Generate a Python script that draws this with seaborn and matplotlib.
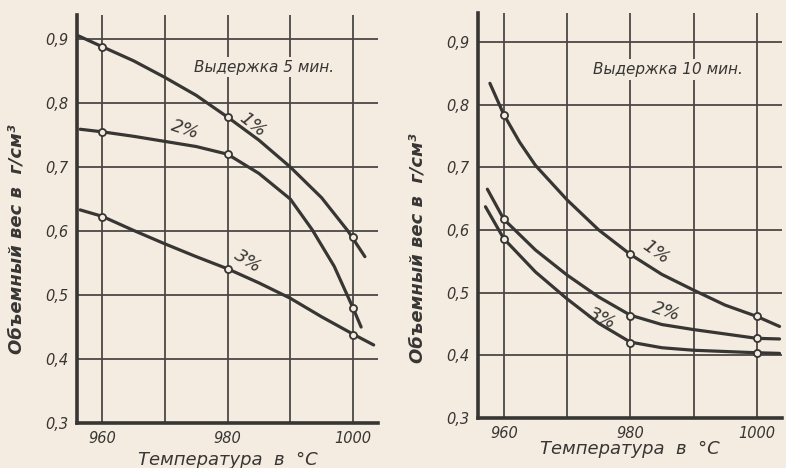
import numpy as np
import pandas as pd
import matplotlib
matplotlib.use("Agg")
import matplotlib.pyplot as plt
import seaborn as sns

sns.set_style("white")
plt.rcParams['font.family'] = ['DejaVu Sans']
plt.rcParams['font.style'] = 'italic'

paper = '#f4ece0'
ink = '#383634'

# curves, 5 min exposure
t5_1 = [956.2, 960, 965, 970, 975, 980, 985, 990, 995, 999.2, 1001.9]
v5_1 = [0.905, 0.888, 0.866, 0.840, 0.812, 0.778, 0.742, 0.700, 0.652, 0.600, 0.560]
t5_2 = [956.5, 960, 965, 970, 975, 980, 985, 990, 993.5, 997, 1000, 1001.3]
v5_2 = [0.759, 0.755, 0.748, 0.740, 0.732, 0.720, 0.690, 0.650, 0.602, 0.545, 0.480, 0.450]
t5_3 = [956.5, 960, 965, 970, 975, 980, 985, 990, 995, 1000, 1003.3]
v5_3 = [0.633, 0.623, 0.601, 0.580, 0.560, 0.541, 0.519, 0.495, 0.466, 0.439, 0.422]

# curves, 10 min exposure
t10_1 = [957.8, 960, 962.5, 965, 970, 975, 980, 985, 990, 995, 1000, 1003.6]
v10_1 = [0.834, 0.784, 0.740, 0.703, 0.648, 0.600, 0.561, 0.529, 0.504, 0.480, 0.462, 0.446]
t10_2 = [957.4, 960, 965, 970, 975, 980, 985, 990, 995, 1000, 1003.6]
v10_2 = [0.665, 0.617, 0.568, 0.528, 0.493, 0.464, 0.449, 0.441, 0.434, 0.427, 0.426]
t10_3 = [957.1, 960, 965, 970, 975, 980, 985, 990, 995, 1000, 1003.6]
v10_3 = [0.637, 0.586, 0.533, 0.490, 0.451, 0.421, 0.412, 0.408, 0.406, 0.404, 0.403]

# measured points (open circles)
point_temps = [960, 980, 1000]
m5_1 = [0.888, 0.778, 0.590]
m5_2 = [0.755, 0.720, 0.480]
m5_3 = [0.622, 0.541, 0.437]
m10_1 = [0.784, 0.561, 0.462]
m10_2 = [0.617, 0.463, 0.427]
m10_3 = [0.586, 0.419, 0.404]

series_names = ['1%', '2%', '3%']
xticks = [960, 970, 980, 990, 1000]
xticklabels = ['960', '', '980', '', '1000']
yticks = [0.3, 0.4, 0.5, 0.6, 0.7, 0.8, 0.9]
yticklabels = ['0,3', '0,4', '0,5', '0,6', '0,7', '0,8', '0,9']


def curves_df(ts, vs):
    rows = []
    for name, t, v in zip(series_names, ts, vs):
        rows.append(pd.DataFrame({'temp': t, 'value': v, 'series': name}))
    return pd.concat(rows, ignore_index=True)


def points_df(vs):
    rows = []
    for name, v in zip(series_names, vs):
        rows.append(pd.DataFrame({'temp': point_temps, 'value': v, 'series': name}))
    return pd.concat(rows, ignore_index=True)


fig = plt.figure(figsize=(7.86, 4.68), dpi=100, facecolor=paper)
ax1 = fig.add_axes([0.098, 0.096, 0.383, 0.872])
ax2 = fig.add_axes([0.608, 0.107, 0.387, 0.865])

panels = [
    (ax1, curves_df([t5_1, t5_2, t5_3], [v5_1, v5_2, v5_3]),
     points_df([m5_1, m5_2, m5_3]), (956.0, 1004.0), (0.3, 0.9375),
     'Выдержка 5 мин.',
     [(984.0, 0.766, -38), (973.2, 0.758, -18), (983.2, 0.552, -32)],
     (-0.17, 0.45), 3),
    (ax2, curves_df([t10_1, t10_2, t10_3], [v10_1, v10_2, v10_3]),
     points_df([m10_1, m10_2, m10_3]), (955.9, 1004.0), (0.3, 0.946),
     'Выдержка 10 мин.',
     [(984.0, 0.564, -35), (985.6, 0.469, -18), (975.6, 0.459, -25)],
     (-0.17, 0.42), -1),
]

pal = {n: ink for n in series_names}

for ax, cdf, pdf, xlim, ylim, title, labels, ylab_pos, xpad in panels:
    ax.set_facecolor(paper)
    sns.lineplot(data=cdf, x='temp', y='value', hue='series', palette=pal,
                 sort=False, estimator=None, linewidth=2.3, legend=False,
                 ax=ax, zorder=2)
    for line in ax.lines:
        line.set_solid_joinstyle('round')
        line.set_solid_capstyle('round')
    sns.scatterplot(data=pdf, x='temp', y='value', color=paper, edgecolor=ink,
                    linewidth=1.3, s=26, legend=False, ax=ax, zorder=3)

    ax.set_xlim(*xlim)
    ax.set_ylim(*ylim)
    ax.set_xticks(xticks)
    ax.set_xticklabels(xticklabels, fontsize=10.5)
    ax.set_yticks(yticks)
    ax.set_yticklabels(yticklabels, fontsize=10.5)
    ax.tick_params(length=0, pad=6, colors=ink)
    ax.grid(True, color='#4a4846', linewidth=1.3)
    ax.set_axisbelow(True)
    for side in ['top', 'right']:
        ax.spines[side].set_visible(False)
    for side in ['left', 'bottom']:
        ax.spines[side].set_color(ink)
        ax.spines[side].set_linewidth(2.6)

    ax.set_xlabel('Температура  в  °C', fontsize=13, color=ink, labelpad=xpad)
    ax.set_ylabel('Объемный вес в  г/см³', fontsize=13, color=ink,
                  fontweight='bold')
    ax.yaxis.set_label_coords(*ylab_pos)

    ax.text(985.9, 0.856, title, fontsize=11, color=ink, ha='center',
            va='center', zorder=4,
            bbox=dict(facecolor=paper, edgecolor='none', pad=2))
    for name, (lx, ly, rot) in zip(series_names, labels):
        ax.text(lx, ly, name, fontsize=13, color=ink, ha='center',
                va='center', rotation=rot, zorder=4)

fig.savefig('out.png', dpi=100, facecolor=paper)
